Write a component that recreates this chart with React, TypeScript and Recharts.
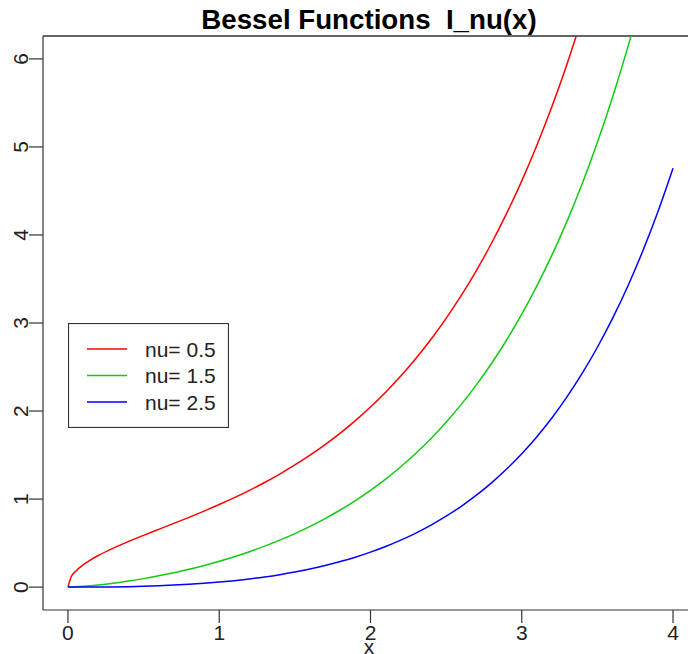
import React from 'react';
import { LineChart, Line, XAxis, YAxis, ReferenceLine, Legend } from 'recharts';

const FONT = '"Liberation Sans", Arial, Helvetica, sans-serif';

const xs = [
  0, 0.02, 0.05, 0.1, 0.15, 0.2, 0.3, 0.4, 0.5, 0.6, 0.7, 0.8, 0.9, 1.0,
  1.1, 1.2, 1.3, 1.4, 1.5, 1.6, 1.7, 1.8, 1.9, 2.0, 2.1, 2.2, 2.3, 2.4, 2.5,
  2.6, 2.7, 2.8, 2.9, 3.0, 3.1, 3.2, 3.3, 3.4, 3.5, 3.6, 3.7, 3.8, 3.9, 4.0,
];

const nu05 = [
  0, 0.1128, 0.1785, 0.2527, 0.3102, 0.3592, 0.4436, 0.5182, 0.588, 0.6558, 0.7234, 0.7922, 0.8633, 0.9377,
  1.0161, 1.0994, 1.1885, 1.2841, 1.3872, 1.4985, 1.619, 1.7497, 1.8918, 2.0462, 2.2144, 2.3976, 2.5974, 2.8153, 3.0531,
  3.3128, 3.5963, 3.9061, 4.2447, 4.6148, 5.0195, 5.462, 5.9461, 6.4757, null, null, null, null, null, null,
];

const nu15 = [
  0, 0.0008, 0.003, 0.0084, 0.0155, 0.0239, 0.0441, 0.0684, 0.0964, 0.1281, 0.1635, 0.2028, 0.246, 0.2935,
  0.3456, 0.4026, 0.465, 0.5332, 0.6078, 0.6893, 0.7784, 0.876, 0.9827, 1.0995, 1.2274, 1.3674, 1.5208, 1.689, 1.8733,
  2.0754, 2.297, 2.5401, 2.8068, 3.0995, 3.4207, 3.7733, 4.1605, 4.5855, 5.0523, 5.565, 6.128, 6.7466, null, null,
];

const nu25 = [
  0, 0, 0.00003, 0.0002, 0.0005, 0.001, 0.0026, 0.0054, 0.0096, 0.0152, 0.0226, 0.0319, 0.0433, 0.0571,
  0.0735, 0.0929, 0.1155, 0.1416, 0.1717, 0.2061, 0.2453, 0.2898, 0.3402, 0.397, 0.461, 0.533, 0.6137, 0.7041, 0.8052,
  0.9181, 1.0441, 1.1846, 1.3411, 1.5153, 1.7091, 1.9245, 2.1639, 2.4297, 2.7246, 3.052, 3.415, 3.8176, 4.2634, 4.7576,
];

const xTicks = [0, 1, 2, 3, 4];
const yTicks = [0, 1, 2, 3, 4, 5, 6];

const series = [
  { key: 'nu05', name: 'nu= 0.5', color: '#FF0000' },
  { key: 'nu15', name: 'nu= 1.5', color: '#11CC11' },
  { key: 'nu25', name: 'nu= 2.5', color: '#0000FF' },
];

const data = xs.map((x, i) => ({ x, nu05: nu05[i], nu15: nu15[i], nu25: nu25[i] }));

const XTick = (props: any) => {
  const { x, y, payload } = props;
  return (
    <text x={x} y={y + 15} textAnchor="middle" fontSize={21} fill="#222" fontFamily={FONT}>
      {payload.value}
    </text>
  );
};

const YTick = (props: any) => {
  const { x, y, payload } = props;
  const bx = x + 1;
  return (
    <text
      x={bx}
      y={y}
      transform={`rotate(-90, ${bx}, ${y})`}
      textAnchor="middle"
      fontSize={21}
      fill="#222"
      fontFamily={FONT}
    >
      {payload.value}
    </text>
  );
};

const LegendBox = () => (
  <svg width={161} height={105} style={{ display: 'block' }}>
    <rect x={0.5} y={0.5} width={160} height={104} fill="#fff" stroke="#333" strokeWidth={1.2} />
    {series.map((s, i) => {
      const cy = 26 + i * 26.5;
      return (
        <g key={s.key}>
          <line x1={19} x2={59} y1={cy} y2={cy} stroke={s.color} strokeWidth={1.5} />
          <text x={77} y={cy} dominantBaseline="central" fontSize={21} fill="#222" fontFamily={FONT}>
            {s.name}
          </text>
        </g>
      );
    })}
  </svg>
);

export default function App() {
  return (
    <div style={{ position: 'absolute', left: 0, top: 0, width: 688, height: 654, overflow: 'hidden', background: '#fff' }}>
      <LineChart width={700} height={654} data={data} margin={{ top: 36, right: 2, bottom: 0, left: 0 }}>
        <XAxis
          dataKey="x"
          type="number"
          domain={[-0.165, 4.165]}
          allowDataOverflow
          ticks={xTicks}
          height={44}
          tickSize={13}
          stroke="#333"
          strokeWidth={1.2}
          tick={<XTick />}
        />
        <YAxis
          type="number"
          domain={[-0.26, 6.26]}
          allowDataOverflow
          ticks={yTicks}
          width={43}
          tickSize={14}
          stroke="#333"
          strokeWidth={1.2}
          tick={<YTick />}
        />
        <ReferenceLine y={6.26} stroke="#333" strokeWidth={1.5} ifOverflow="visible" />
        <Legend
          layout="vertical"
          align="center"
          verticalAlign="middle"
          wrapperStyle={{ left: 68, top: 323, width: 161, height: 105 }}
          content={() => <LegendBox />}
        />
        {series.map((s) => (
          <Line
            key={s.key}
            type="monotone"
            dataKey={s.key}
            name={s.name}
            stroke={s.color}
            strokeWidth={1.5}
            dot={false}
            activeDot={false}
            isAnimationActive={false}
          />
        ))}
      </LineChart>
      <svg width={688} height={654} style={{ position: 'absolute', left: 0, top: 0, pointerEvents: 'none' }}>
        <text x={369} y={29} textAnchor="middle" fontSize={27.7} fontWeight="bold" fill="#000" fontFamily={FONT}>
          {'Bessel Functions\u00A0 I_nu(x)'}
        </text>
        <text x={369} y={654} textAnchor="middle" fontSize={21} fill="#222" fontFamily={FONT}>
          x
        </text>
      </svg>
    </div>
  );
}
